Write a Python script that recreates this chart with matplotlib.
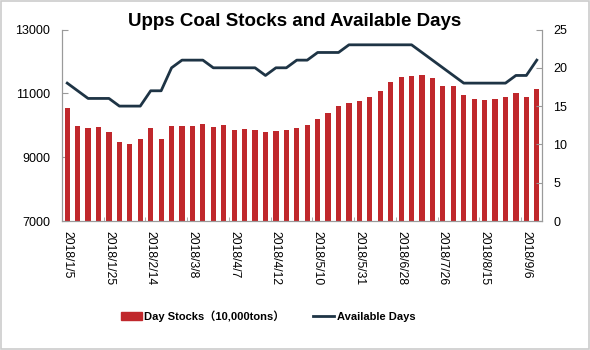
#!/usr/bin/env python3
"""
Upps coal stocks (bars, left axis) and available days (line, right axis).
"""
import matplotlib
matplotlib.use("Agg")
import matplotlib.pyplot as plt
from matplotlib.patches import Rectangle, Patch
from matplotlib.lines import Line2D
import numpy as np

plt.rcParams['font.family'] = ['Liberation Sans', 'Noto Sans CJK SC', 'DejaVu Sans']

TITLE = "Upps Coal Stocks and Available Days"
BAR_LABEL = "Day Stocks（10,000tons）"
LINE_LABEL = "Available Days"

# weekly stocks, 10,000 tons
stocks = [10550, 9980, 9905, 9955, 9780, 9485, 9403, 9570, 9923, 9570,
          9977, 9977, 9977, 10030, 9955, 9999, 9851, 9883, 9842, 9780,
          9820, 9851, 9905, 9999, 10187, 10375, 10603, 10688, 10769, 10876,
          11083, 11365, 11521, 11543, 11584, 11471, 11220, 11220, 10948, 10813,
          10791, 10813, 10895, 11011, 10895, 11145]
# available days
days = [18, 17, 16, 16, 16, 15, 15, 15, 17, 17,
        20, 21, 21, 21, 20, 20, 20, 20, 20, 19,
        20, 20, 21, 21, 22, 22, 22, 23, 23, 23,
        23, 23, 23, 23, 22, 21, 20, 19, 18, 18,
        18, 18, 18, 19, 19, 21]
# labels shown on every 4th week
tick_labels = ["2018/1/5", "2018/1/25", "2018/2/14", "2018/3/8", "2018/4/7",
               "2018/4/12", "2018/5/10", "2018/5/31", "2018/6/28", "2018/7/26",
               "2018/8/15", "2018/9/6"]

BAR_COLOR = "#c0282c"
LINE_COLOR = "#1e3445"
AXIS_COLOR = "#9a9a9a"

fig = plt.figure(figsize=(5.9, 3.5), dpi=100)
ax = fig.add_axes([62/590, 1-221/350, (542-62)/590, (221-29.5)/350])
ax2 = ax.twinx()

x = np.arange(len(stocks))
ax.bar(x, stocks, width=0.5, color=BAR_COLOR, bottom=0, zorder=2)
ax.set_ylim(7000, 13000)
ax.set_yticks([7000, 9000, 11000, 13000])
ax.set_xlim(-0.5, len(stocks) - 0.5)

ax2.plot(x, days, color=LINE_COLOR, lw=2.0, solid_joinstyle="round", zorder=3)
ax2.set_ylim(0, 25)
ax2.set_yticks([0, 5, 10, 15, 20, 25])

# category labels every 4 weeks, tick marks between categories
ax.set_xticks(x[::4])
ax.set_xticklabels(tick_labels, rotation=270, fontsize=8.7, va="top", ha="center")
ax.set_xticks(np.arange(3.5, len(stocks), 4), minor=True)
ax.tick_params(axis="x", which="major", length=0, pad=7)
ax.tick_params(axis="x", which="minor", length=3, direction="in", color=AXIS_COLOR)

for a in (ax, ax2):
    a.spines["top"].set_visible(False)
    for s in ("left", "right", "bottom"):
        a.spines[s].set_color(AXIS_COLOR)
ax.tick_params(axis="y", direction="in", length=4, color=AXIS_COLOR, labelsize=9, pad=8.5)
ax2.tick_params(axis="y", direction="in", length=4, color=AXIS_COLOR, labelsize=9, pad=8)

fig.text(0.5, 1-21/350, TITLE, ha="center", va="center", fontsize=13.5, fontweight="bold")

handles = [Patch(facecolor=BAR_COLOR, edgecolor=BAR_COLOR),
           Line2D([0], [0], color=LINE_COLOR, lw=2.0)]
fig.legend(handles, [BAR_LABEL, LINE_LABEL], loc="center", bbox_to_anchor=(268/590, 1-316/350),
           ncol=2, frameon=False, prop={"weight": "bold", "size": 8},
           handlelength=1.9, handletextpad=0.2, columnspacing=2.6)

fig.patches.append(Rectangle((0.001, 0.002), 0.997, 0.995, transform=fig.transFigure,
                             fill=False, edgecolor="#cccccc", lw=1.2))

fig.savefig("out.png", dpi=100)
plt.close(fig)
